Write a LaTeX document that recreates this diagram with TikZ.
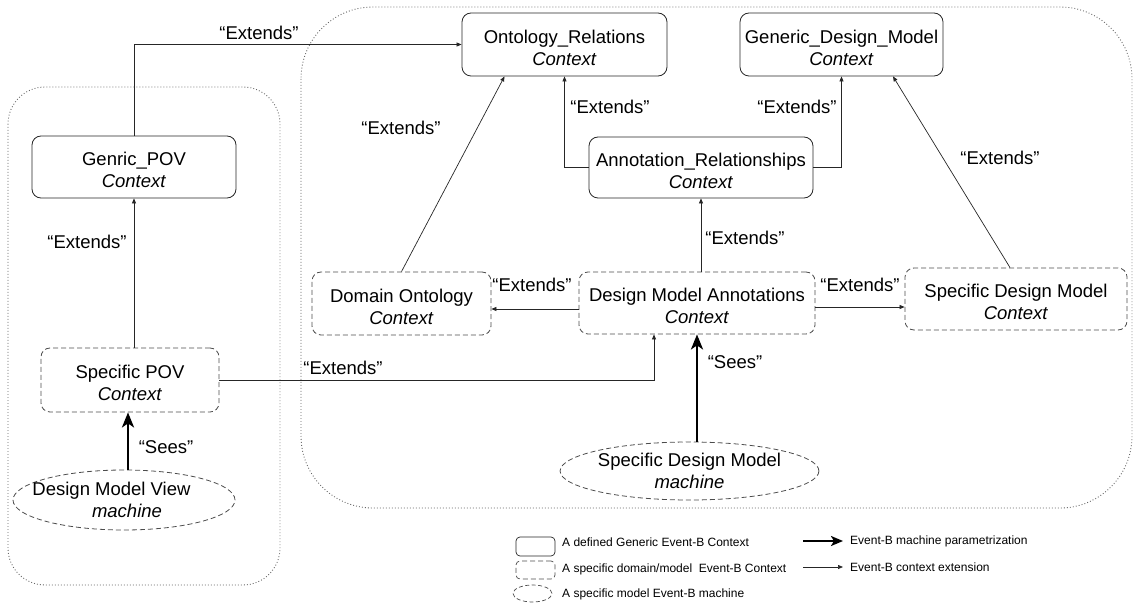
\documentclass[tikz,border=0pt]{standalone}
\usepackage{fontspec}
\setmainfont{Liberation Sans}
\usetikzlibrary{shapes.geometric,arrows.meta}
% two-line context caption, first line set a little lower in the box
\newcommand{\ctxcap}[1]{\rule{0pt}{19.5pt}#1\\\textit{Context}}
\begin{document}
\begin{tikzpicture}[x=1pt,y=-1pt,
  every node/.style={inner sep=0pt, font=\fontsize{18.5}{22}\selectfont},
  ctx/.style={draw=black!85, line width=0.8pt, rounded corners=9pt, align=center},
  spec/.style={ctx, draw=black!70, dash pattern=on 5pt off 3pt},
  mach/.style={ellipse, draw=black!70, line width=0.8pt, dash pattern=on 5pt off 3pt, align=center},
  ext/.style={draw=black!85, line width=0.7pt, -{Triangle[length=5pt,width=4pt]}},
  sees/.style={draw=black, line width=2.6pt, -{Stealth[length=15pt,width=12pt,inset=4pt]}},
  group/.style={draw=black!60, line width=0.9pt, dash pattern=on 0.9pt off 2.1pt},
  lbl/.style={},
  keybox/.style={rounded corners=4pt, line width=0.7pt},
  legendtxt/.style={anchor=west, font=\fontsize{12}{14}\selectfont}]
\useasboundingbox (0,0) rectangle (1133,604);

% grouping frames
\draw[group, rounded corners=37pt] (8,87) rectangle (280,585);
\draw[group, rounded corners=72pt] (301,7) rectangle (1132,508);

% generic contexts
\node[ctx, minimum width=205pt, minimum height=63pt] (onto) at (564.5,44.5) {\ctxcap{Ontology\_Relations}};
\node[ctx, minimum width=203pt, minimum height=63pt] (gdm) at (841.5,44.5) {\ctxcap{Generic\_Design\_Model}};
\node[ctx, minimum width=204pt, minimum height=62pt] (gpov) at (134,167) {\ctxcap{Genric\_POV}};
\node[ctx, minimum width=224pt, minimum height=61pt] (annot) at (701,167.5) {\ctxcap{Annotation\_Relationships}};

% specific contexts
\node[spec, minimum width=179pt, minimum height=63pt] (domo) at (401.5,303.5) {\ctxcap{Domain Ontology}};
\node[spec, minimum width=236pt, minimum height=62pt] (dma) at (697,303) {\ctxcap{Design Model Annotations}};
\node[spec, minimum width=222pt, minimum height=62pt] (sdm) at (1016,299) {\ctxcap{Specific Design Model}};
\node[spec, minimum width=178pt, minimum height=64pt] (spov) at (130,380) {\ctxcap{Specific POV}};

% machines
\node[mach, minimum width=222pt, minimum height=60pt] (dmv) at (124,500)
  {\makebox[0pt]{Design Model View\hspace*{25pt}}\\\makebox[0pt]{\hspace*{6pt}\textit{machine}}};
\node[mach, minimum width=221pt, minimum height=58pt] (sdmm) at (689.5,471) {Specific Design Model\\\textit{machine}};

% context extensions
\draw[ext] (gpov.north) |- (onto.west);
\draw[ext] (spov.north -| gpov.south) -- (gpov.south);
\draw[ext] (spov.east) -| ([xshift=-43pt]dma.south);
\draw[ext] (domo.north) -- ([xshift=-60pt]onto.south);
\draw[ext] (annot.west) -| (onto.south);
\draw[ext] (annot.east) -| (gdm.south);
\draw[ext] ([xshift=-6pt]sdm.north) -- ([xshift=51.5pt]gdm.south);
\draw[ext] (dma.north -| annot.south) -- (annot.south);
\draw[ext] ([yshift=-6pt]dma.west) -- ([yshift=-6pt]dma.west -| domo.east);
\draw[ext] ([yshift=-4pt]dma.east) -- ([yshift=-4pt]dma.east -| sdm.west);

% machine parametrization
\draw[sees] (dmv.north -| spov.south) ++(-2pt,0) -- ([xshift=-2pt]spov.south);
\draw[sees] (sdmm.north -| dma.south) -- (dma.south);

% connector labels
\node[lbl] (l1) at (259,33) {“Extends”};
\node[lbl] (l2) at (87,242) {“Extends”};
\node[lbl] (l3) at (166,447) {“Sees”};
\node[lbl] (l4) at (343,368) {“Extends”};
\node[lbl] (l5) at (401,128) {“Extends”};
\node[lbl] (l6) at (610,107) {“Extends”};
\node[lbl] (l7) at (797,107) {“Extends”};
\node[lbl] (l8) at (1000,158) {“Extends”};
\node[lbl] (l9) at (745,238) {“Extends”};
\node[lbl] (l10) at (532,285) {“Extends”};
\node[lbl] (l11) at (860,285) {“Extends”};
\node[lbl] (l12) at (735,362) {“Sees”};

% legend
\node[ctx, keybox, minimum width=39pt, minimum height=19pt] (k1) at (535.5,546.5) {};
\node[spec, keybox, minimum width=39pt, minimum height=18pt] (k2) at (535.5,570) {};
\node[mach, line width=0.7pt, dash pattern=on 4pt off 2.5pt, minimum width=39pt, minimum height=17pt] (k3) at (532.5,593.5) {};
\node[legendtxt] (t1) at (562,542) {A defined Generic Event-B Context};
\node[legendtxt] (t2) at (562,569) {A specific domain/model\ \ Event-B Context};
\node[legendtxt] (t3) at (562,594) {A specific model Event-B machine};
\coordinate (a1) at (803,541);
\coordinate (b1) at (843,541);
\coordinate (a2) at (803,567);
\coordinate (b2) at (843,567);
\draw[draw=black, line width=2.4pt, -{Stealth[length=12pt,width=10pt,inset=3pt]}] (a1) -- (b1);
\draw[ext] (a2) -- (b2);
\node[legendtxt] (t4) at (850,541) {Event-B machine parametrization};
\node[legendtxt] (t5) at (850,567) {Event-B context extension};
\end{tikzpicture}
\end{document}
